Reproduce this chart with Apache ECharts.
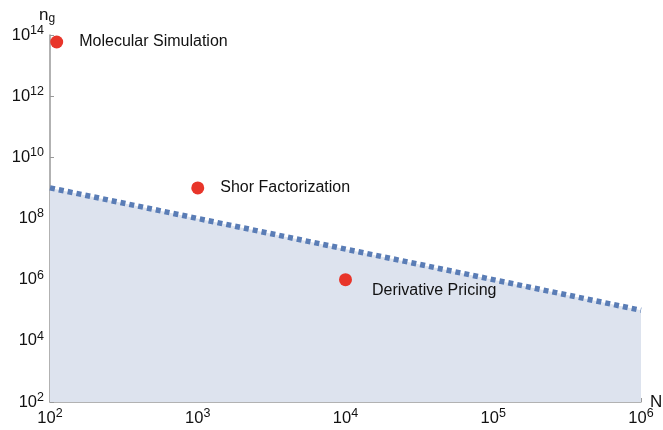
<!DOCTYPE html>
<html>
<head>
<meta charset="utf-8">
<script src="https://cdn.jsdelivr.net/npm/echarts@6/dist/echarts.min.js"></script>
<style>
  html, body { margin: 0; padding: 0; background: #fff; }
  #chart { width: 663px; height: 430px; }
</style>
</head>
<body>
<div id="chart"></div>
<script>
// problem sizes (N) and gate counts (n_g)
const appNames = ['Molecular Simulation', 'Shor Factorization', 'Derivative Pricing']
const appN = [111, 1000, 10000]
const appGates = [5.9e13, 1e9, 1e6]

// boundary line, n_g = 1e11 / N
const boundaryN = [100, 1e6]
const boundaryGates = [1e9, 1e5]

const font = '"Liberation Sans", Arial, sans-serif'

const powLabel = (v) => '{b|10}{s|' + Math.round(Math.log10(v)) + '}'
const powRich = {
  b: { fontSize: 16.5, color: '#111', fontFamily: font },
  s: { fontSize: 12.5, color: '#111', fontFamily: font, padding: [0, 0, 9, 0] },
}

const chart = echarts.init(document.getElementById('chart'))

chart.setOption({
  animation: false,
  grid: { left: 50, right: 22, top: 35, bottom: 28, outerBoundsMode: 'none', containLabel: false },
  xAxis: {
    type: 'log',
    logBase: 10,
    min: 100,
    max: 1e6,
    name: 'N',
    nameLocation: 'end',
    nameGap: 9,
    nameMoveOverlap: false,
    nameTextStyle: { fontSize: 17, color: '#111', fontFamily: font, padding: [0, 0, 8, 0] },
    axisLine: { lineStyle: { color: '#999', width: 1.5 } },
    axisTick: { inside: true, length: 4, lineStyle: { color: '#999' } },
    minorTick: { show: false },
    splitLine: { show: false },
    axisLabel: { formatter: powLabel, rich: powRich, margin: 5 },
  },
  yAxis: {
    type: 'log',
    logBase: 10,
    min: 100,
    max: 1e14,
    interval: 2,
    name: '{b|n}{sub|g}',
    nameLocation: 'end',
    nameGap: 10,
    nameMoveOverlap: false,
    nameTextStyle: {
      align: 'center',
      padding: [0, 6, 0, 0],
      rich: {
        b: { fontSize: 17, color: '#111', fontFamily: font },
        sub: { fontSize: 12, color: '#111', fontFamily: font, padding: [8, 0, 0, 0] },
      },
    },
    axisLine: { show: true, lineStyle: { color: '#999', width: 1.5 } },
    axisTick: { show: true, inside: true, length: 4, lineStyle: { color: '#999' } },
    splitLine: { show: false },
    axisLabel: { formatter: powLabel, rich: powRich, margin: 6 },
  },
  series: [
    {
      type: 'line',
      data: boundaryN.map((n, i) => [n, boundaryGates[i]]),
      symbol: 'none',
      lineStyle: { color: '#5a7db6', width: 5.5, type: [5, 4] },
      areaStyle: { color: '#dde3ee', opacity: 1, origin: 'start' },
      z: 1,
    },
    {
      type: 'scatter',
      symbolSize: 13,
      itemStyle: { color: '#e8352a', opacity: 1 },
      label: {
        show: true,
        position: 'right',
        distance: 16,
        fontSize: 16,
        color: '#111',
        fontFamily: font,
        formatter: (p) => appNames[p.dataIndex],
      },
      data: appN.map((n, i) => {
        const d = { value: [n, appGates[i]] }
        if (i === 2) d.label = { offset: [4, 11] }
        return d
      }),
      z: 3,
    },
  ],
})
</script>
</body>
</html>
